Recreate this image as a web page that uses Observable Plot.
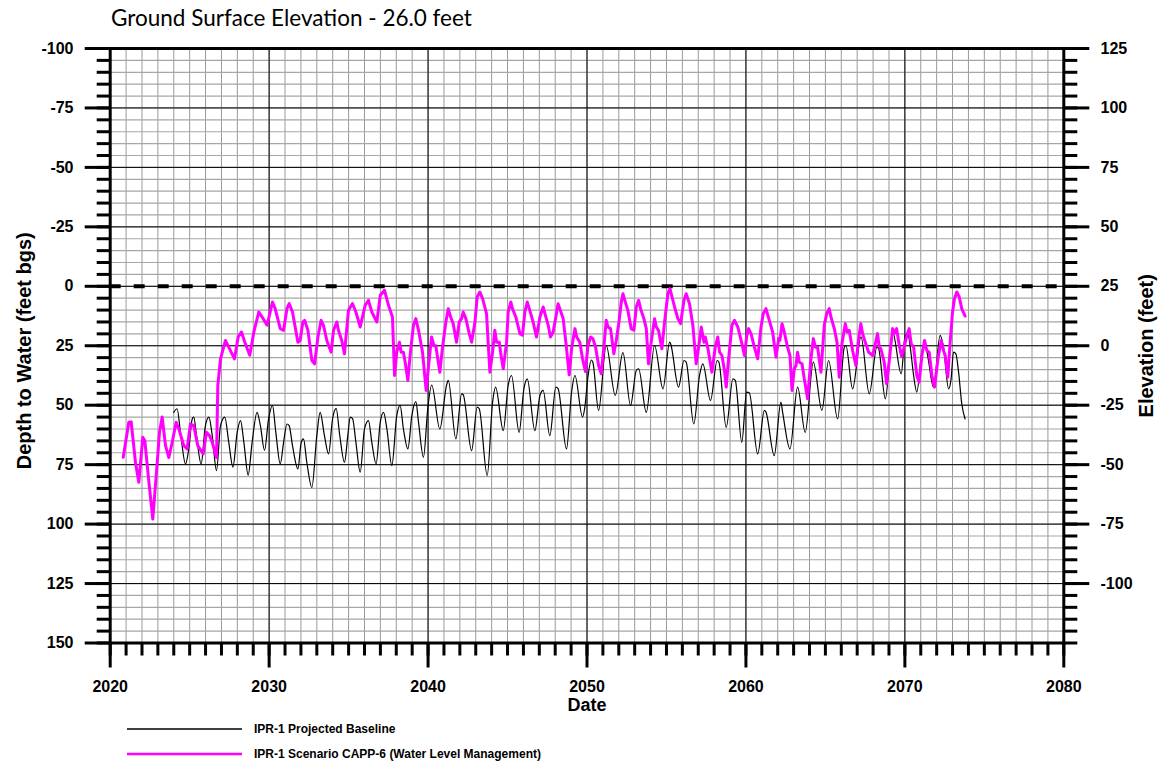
<!DOCTYPE html>
<html>
<head>
<meta charset="utf-8">
<script src="https://cdn.jsdelivr.net/npm/d3@7"></script>
<script src="https://cdn.jsdelivr.net/npm/@observablehq/plot@0.6"></script>
<style>
  body { margin: 0; background: #fff; }
  #wrap { position: relative; width: 1158px; height: 765px; overflow: hidden; }
  #wrap svg { position: absolute; left: 0; top: 0; }
</style>
</head>
<body>
<div id="wrap"></div>
<script>
// ---------- data ----------
const titleText = "Ground Surface Elevation - 26.0 feet";
const xLabel = "Date";
const yLabelLeft = "Depth to Water (feet bgs)";
const yLabelRight = "Elevation (feet)";
const seriesNames = ["IPR-1 Projected Baseline", "IPR-1 Scenario CAPP-6 (Water Level Management)"];
const seriesColors = ["#000000", "#ff00ff"];

const xTicks = [2020, 2030, 2040, 2050, 2060, 2070, 2080];
const depthTicks = [-100, -75, -50, -25, 0, 25, 50, 75, 100, 125, 150];
const elevTicks = [125, 100, 75, 50, 25, 0, -25, -50, -75, -100];
const elevAtZeroDepth = 25;

const baseYear = [
2024.00,2024.21,2024.42,2024.74,2024.95,2025.16,2025.26,2025.43,2025.72,2025.99,
2026.21,2026.42,2026.69,2026.94,2027.21,2027.46,2027.72,2027.99,2028.20,2028.41,
2028.68,2028.93,2029.24,2029.45,2029.71,2029.96,2030.21,2030.42,2030.70,2030.91,
2031.12,2031.26,2031.47,2031.81,2032.02,2032.16,2032.37,2032.69,2033.00,2033.21,
2033.48,2033.74,2033.99,2034.22,2034.43,2034.74,2034.95,2035.10,2035.25,2035.46,
2035.73,2036.00,2036.25,2036.46,2036.73,2036.99,2037.20,2037.41,2037.72,2038.03,
2038.24,2038.45,2038.73,2038.98,2039.23,2039.40,2039.71,2039.98,2040.23,2040.74,
2041.16,2041.27,2041.75,2042.11,2042.21,2042.74,2043.09,2043.22,2043.72,2044.06,
2044.25,2044.73,2045.04,2045.25,2045.73,2046.03,2046.24,2046.72,2047.04,2047.24,
2047.66,2048.04,2048.18,2048.71,2049.03,2049.24,2049.72,2049.85,2050.07,2050.27,
2050.37,2050.73,2051.21,2051.78,2052.26,2052.74,2053.10,2053.25,2053.73,2054.25,
2054.78,2055.20,2055.26,2055.76,2056.10,2056.24,2056.72,2057.08,2057.29,2057.77,
2058.19,2058.30,2058.76,2059.18,2059.33,2059.74,2060.04,2060.21,2060.74,2061.16,
2061.26,2061.78,2062.20,2062.31,2062.77,2063.25,2063.73,2064.24,2064.78,2065.20,
2065.77,2066.19,2066.29,2066.71,2067.24,2067.76,2068.24,2068.35,2068.77,2069.23,
2069.77,2070.02,2070.19,2070.34,2070.55,2070.75,2071.07,2071.28,2071.45,2071.80,
2072.22,2072.43,2072.75,2072.91,2073.06,2073.21,2073.38,2073.58,2073.79
];
const baseDepth = [
53,51.5,61.4,74.7,68,55.8,55,62.8,74.7,58.6,
55,62.8,77.5,58.6,55,65.6,76,61.4,56.5,65.6,
79.4,65.6,53,58.6,69,56,50.1,61.4,74.7,65.6,
57.9,58.6,67,76.8,65.6,64.2,74,84.6,62.8,53,
62.8,70.5,55.8,51.3,62,74,62.8,55,55.6,65.6,
78.2,60,56.5,65.6,74.7,57.2,53,60,75.4,54.4,
50.1,60,68.4,54.4,48.5,57.2,71.9,51.5,41.5,60,
41.7,39.6,64.2,45.2,45.6,69.1,50.8,51.5,79.6,48.7,
42.4,60.7,41.7,37.5,61.4,43.1,38.9,60.7,45.9,43.8,
62.8,42.4,43,68.4,44.5,37.5,55,51.5,37.5,31,
32,52.2,24.9,45.9,27.9,50.1,35.4,34.7,53,24.9,
43.1,23.5,24.2,42.4,31.2,31.9,57.9,37.5,32.6,48,
31.2,31.9,59.3,38.9,39.6,65.6,44.5,44.8,70.5,52.2,
52.9,71.2,48.7,53,68.4,42.4,61.4,31.9,52.2,31.2,
55.8,25.6,24.9,43.1,21.3,45.2,25.6,26.3,47.3,19.2,
36.8,20.6,19.9,25.6,37.5,44.5,27.7,24.2,29.8,42.4,
20.6,25.6,43.1,38.9,27.7,28.4,36.1,49.4,55.8
];

const mgmtYear = [
2020.82,2021.17,2021.32,2021.59,2021.80,2022.05,2022.18,2022.43,2022.68,2022.96,
2023.10,2023.27,2023.48,2023.69,2023.90,2024.15,2024.32,2024.63,2024.84,2025.05,
2025.26,2025.51,2025.85,2026.06,2026.25,2026.42,2026.69,2026.77,2026.94,2027.25,
2027.46,2027.82,2028.05,2028.26,2028.47,2028.78,2029.04,2029.35,2029.62,2029.87,
2030.21,2030.38,2030.70,2030.91,2031.12,2031.26,2031.47,2031.81,2031.95,2032.12,
2032.23,2032.44,2032.69,2032.86,2033.07,2033.27,2033.42,2033.63,2033.90,2034.05,
2034.26,2034.36,2034.57,2034.74,2034.99,2035.24,2035.46,2035.73,2036.04,2036.25,
2036.46,2036.78,2036.99,2037.26,2037.51,2037.76,2037.89,2038.03,2038.20,2038.31,
2038.45,2038.56,2038.73,2038.87,2039.08,2039.23,2039.40,2039.65,2039.88,2040.12,
2040.22,2040.37,2040.49,2040.64,2040.74,2040.91,2041.12,2041.27,2041.42,2041.58,
2041.79,2041.96,2042.11,2042.21,2042.38,2042.59,2042.74,2042.95,2043.09,2043.26,
2043.43,2043.68,2043.78,2043.89,2044.06,2044.20,2044.31,2044.48,2044.56,2044.73,
2044.94,2045.04,2045.21,2045.31,2045.52,2045.78,2045.94,2046.09,2046.24,2046.40,
2046.61,2046.82,2047.04,2047.24,2047.41,2047.56,2047.70,2047.87,2048.04,2048.18,
2048.29,2048.50,2048.67,2048.88,2049.03,2049.24,2049.35,2049.55,2049.72,2049.90,
2050.06,2050.23,2050.37,2050.54,2050.73,2050.90,2051.06,2051.21,2051.32,2051.48,
2051.69,2051.84,2052.01,2052.16,2052.26,2052.41,2052.57,2052.78,2052.95,2053.10,
2053.25,2053.37,2053.58,2053.73,2053.87,2054.04,2054.25,2054.36,2054.50,2054.71,
2054.88,2055.09,2055.22,2055.35,2055.51,2055.72,2055.89,2056.10,2056.24,2056.45,
2056.66,2056.87,2057.04,2057.19,2057.36,2057.44,2057.61,2057.86,2058.07,2058.23,
2058.34,2058.49,2058.65,2058.76,2058.91,2059.12,2059.28,2059.49,2059.70,2059.91,
2060.05,2060.17,2060.32,2060.53,2060.74,2060.95,2061.09,2061.26,2061.47,2061.68,
2061.89,2062.06,2062.14,2062.27,2062.41,2062.62,2062.77,2062.90,2063.04,2063.15,
2063.25,2063.36,2063.53,2063.67,2063.88,2064.09,2064.24,2064.37,2064.51,2064.72,
2064.93,2065.08,2065.24,2065.35,2065.56,2065.73,2065.87,2066.04,2066.25,2066.36,
2066.50,2066.71,2066.92,2067.09,2067.23,2067.34,2067.51,2067.72,2067.97,2068.14,
2068.28,2068.39,2068.49,2068.70,2068.85,2069.02,2069.23,2069.33,2069.48,2069.65,
2069.79,2069.94,2070.13,2070.27,2070.40,2070.55,2070.75,2070.90,2071.07,2071.24,
2071.38,2071.53,2071.70,2071.87,2072.08,2072.29,2072.43,2072.54,2072.70,2072.85,
2073.00,2073.12,2073.27,2073.42,2073.58,2073.79
];
const mgmtDepth = [
71.9,57.2,57,74,82.4,63.5,65,82,97.9,74,
61.4,55,67,72,65.6,57.2,60,67,68.4,57.9,
58.6,67,70.5,61.4,62.8,65.6,72,41.7,30.5,22.8,
25.6,30.5,21.3,19.2,23.5,29,19.2,10.8,13.6,16.4,
6.6,9.4,17.8,18.5,9.4,7.3,10.8,23.5,22.8,15,
14.3,18.5,31.2,32.6,21.3,14.3,16.4,22.8,27.7,18.5,
15,18.5,22.8,28.4,10.1,7.3,10.8,17.1,8,5.9,
10.8,15,3.8,1.7,8,12.9,37.5,27.7,23.5,27.7,
27.7,31.9,39.6,29,16.4,13.6,18.5,27.7,43.8,27.7,
21.3,25,25,31.9,36.1,25.6,15,9.4,12.9,15.7,
23.5,15,13.6,10.8,13.6,19.9,23.5,15,4.5,2.4,
5.2,11.5,23.5,36.1,27.7,18.5,23.5,23.5,27.7,34.7,
23.5,10.8,6.6,9.4,12.9,19.9,20.6,10.8,6.6,10.1,
15,21.3,12.9,8.7,12.9,16.4,21.3,19.2,12.9,7.3,
9.4,13.6,23.5,37.2,26.3,17.8,21.3,23.5,30.5,35.8,
24.9,21.3,22,25.6,33.3,36.8,25.6,14.3,17.1,17.8,
28.4,22.8,15,6.6,3.1,6.6,10.1,17.8,18.5,8.7,
5.9,9.4,13.6,17.8,32.6,23.5,13.6,17.1,18.5,26.3,
15,3.1,1,4.5,8.7,13.6,15.7,5.9,3.1,7.3,
16.4,32.6,24.9,17.1,23.5,21.3,26.3,36.1,25.6,21.3,
27.7,29.1,35.4,42.4,30.5,16.4,14.3,17.1,22.8,29.1,
21,17.8,19.9,25.6,30.5,17.1,11.5,9.4,14.3,19.2,
29.8,22,22.7,15.7,19.2,25.6,29.1,43.8,34.7,33.3,
27.7,31.9,32.6,38.9,47.3,30.5,22,25.6,25.6,36.1,
16.4,11.5,9.4,12.9,17.8,23.5,38.2,24.2,15.7,19.2,
18.5,27,33.3,22,15.7,19.9,23.5,27.7,29.1,24.2,
19.9,25.6,26.3,31.9,41,31.2,17.8,19.9,17.8,24.9,
29.5,26,20.5,17.8,24.2,25.6,37.5,40.3,29.1,22.8,
27,27.7,37.5,42.4,30.5,22.8,27,29.1,38.2,23.5,
10.8,5.2,2.4,4.5,9.4,12.5
];

// ---------- build ----------
const baseline = baseYear.map((x, i) => ({x, y: baseDepth[i]}));
const mgmt = mgmtYear.map((x, i) => ({x, y: mgmtDepth[i]}));
const minorYears = d3.range(xTicks[0], xTicks[xTicks.length - 1] + 1, 1);
const minorDepths = d3.range(depthTicks[0], depthTicks[depthTicks.length - 1] + 1, 5);
const toElev = d => elevAtZeroDepth - d;
const elevTickPos = elevTicks.map(e => elevAtZeroDepth - e);

const W = 1158, H = 765;
const plot = Plot.plot({
  width: W, height: H,
  marginLeft: 109.7, marginRight: 94.7, marginTop: 48, marginBottom: 122.5,
  style: {fontFamily: '"Liberation Sans", Arial, sans-serif', fontSize: "16px", fontWeight: "bold", background: "transparent", color: "#000", overflow: "visible"},
  x: {domain: [xTicks[0], xTicks[xTicks.length - 1]]},
  y: {domain: [depthTicks[0], depthTicks[depthTicks.length - 1]], reverse: true},
  marks: [
    Plot.ruleX(minorYears, {stroke: "#999", strokeWidth: 1}),
    Plot.ruleY(minorDepths, {stroke: "#a6a6a6", strokeWidth: 1.2}),
    Plot.ruleX(xTicks, {stroke: "#000", strokeWidth: 1}),
    Plot.ruleY(depthTicks, {stroke: "#000", strokeWidth: 1}),
    Plot.ruleY([0], {stroke: "#000", strokeWidth: 4, strokeDasharray: "11,13"}),
    Plot.line(baseline, {x: "x", y: "y", stroke: seriesColors[0], strokeWidth: 1.2, curve: "monotone-x"}),
    Plot.line(mgmt, {x: "x", y: "y", stroke: seriesColors[1], strokeWidth: 3, strokeLinejoin: "round"}),
    Plot.frame({stroke: "#000", strokeWidth: 3}),
    Plot.axisX({ticks: minorYears, tickSize: 13, text: null, strokeWidth: 3, label: null}),
    Plot.axisX({ticks: xTicks, tickSize: 25, tickPadding: 12.5, tickFormat: d => String(d), strokeWidth: 3, label: null}),
    Plot.axisY({ticks: minorDepths, tickSize: 13, text: null, strokeWidth: 3, label: null}),
    Plot.axisY({ticks: depthTicks, tickSize: 25, tickPadding: 11.7, tickFormat: d => String(d), strokeWidth: 3, label: null}),
    Plot.axisY({anchor: "right", ticks: minorDepths, tickSize: 13, text: null, strokeWidth: 3, label: null}),
    Plot.axisY({anchor: "right", ticks: elevTickPos, tickSize: 25, tickPadding: 11.7, tickFormat: d => String(toElev(d)), strokeWidth: 3, label: null}),
    Plot.text([xLabel], {text: d => d, frameAnchor: "bottom", dy: 62, lineAnchor: "middle", fontSize: 18, fontWeight: "bold"}),
    Plot.text([yLabelLeft], {text: d => d, frameAnchor: "left", dx: -93, dy: 5, rotate: -90, lineAnchor: "top", textAnchor: "middle", fontSize: 20, fontWeight: "bold"}),
    Plot.text([yLabelRight], {text: d => d, frameAnchor: "right", dx: 74.7, rotate: -90, lineAnchor: "top", textAnchor: "middle", fontSize: 20, fontWeight: "bold"})
  ]
});
document.getElementById("wrap").appendChild(plot);

// ---------- title and legend overlay ----------
const ov = d3.select("#wrap").append("svg").attr("width", W).attr("height", H);
ov.append("text").attr("x", 111).attr("y", 26)
  .attr("font-family", "Lato, 'Open Sans', sans-serif").attr("font-size", 22.5).attr("fill", "#000")
  .text(titleText);
const legY = [729, 754];
const legW = [1.5, 2.5];
seriesNames.forEach((name, i) => {
  ov.append("line").attr("x1", 127).attr("x2", 242).attr("y1", legY[i]).attr("y2", legY[i])
    .attr("stroke", seriesColors[i]).attr("stroke-width", legW[i]);
  ov.append("text").attr("x", 254).attr("y", legY[i] + 4.3)
    .attr("font-family", '"Liberation Sans", Arial, sans-serif').attr("font-size", 12).attr("font-weight", "bold")
    .attr("fill", "#000").text(name);
});
</script>
</body>
</html>
